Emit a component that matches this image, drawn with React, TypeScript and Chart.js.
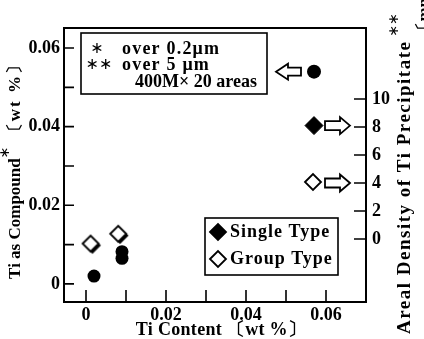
import { useEffect, useRef } from 'react';
import { Chart, registerables } from 'chart.js';

Chart.register(...registerables);

// ---- data ----
const compoundX = [0.002, 0.009, 0.009, 0.057];
const compoundY = [0.002, 0.0082, 0.0065, 0.054];
const singleTypeX = [0.057];
const singleTypeDensity = [8.1];
const groupTypeX = [0.0014, 0.0083, 0.057];
const groupTypeDensity = [-0.4, 0.3, 4.0];

const xTickValues = [0, 0.01, 0.02, 0.03, 0.04, 0.05, 0.06];
const xTickLabels = ['0', '', '0.02', '', '0.04', '', '0.06'];
const yTickValues = [0, 0.01, 0.02, 0.03, 0.04, 0.05, 0.06];
const yTickLabels = ['0', '', '0.02', '', '0.04', '', '0.06'];
const y2TickValues = [0, 2, 4, 6, 8, 10];
const y2TickLabels = ['0', '2', '4', '6', '8', '10'];

const noteMarks = ['∗', '∗∗', ''];
const noteTexts = ['over 0.2μm', 'over 5 μm', '400M× 20 areas'];
const legendLabels = ['Single Type', 'Group Type'];
const xTitle = 'Ti Content 〔wt %〕';
const yTitleParts = ['Ti as Compound', '∗', ' 〔wt %〕'];
const y2TitleParts = ['Areal Density of Ti Precipitate', '∗∗', '〔mm⁻²〕'];

const SERIF = '"Liberation Serif", "Times New Roman", serif';

function diamondImage(r: number, shadow: boolean, filled: boolean) {
  const c = document.createElement('canvas');
  const s = Math.ceil(r * 2 + 6);
  c.width = s;
  c.height = s;
  const g = c.getContext('2d')!;
  const cx = s / 2 - 1;
  const cy = s / 2 - 1;
  const path = (x: number, y: number, rr: number) => {
    g.beginPath();
    g.moveTo(x - rr, y);
    g.lineTo(x, y - rr);
    g.lineTo(x + rr, y);
    g.lineTo(x, y + rr);
    g.closePath();
  };
  if (shadow) {
    path(cx + 1.8, cy + 1.8, r + 0.5);
    g.fillStyle = '#000';
    g.fill();
  }
  path(cx, cy, r);
  g.fillStyle = filled ? '#000' : '#fff';
  g.fill();
  g.lineWidth = 1.8;
  g.strokeStyle = '#000';
  g.stroke();
  return c;
}

function drawArrow(ctx: CanvasRenderingContext2D, tailX: number, y: number, dir: number, len: number, headLen: number, headH: number, shaftH: number) {
  const tipX = tailX + dir * len;
  const hb = tipX - dir * headLen;
  ctx.beginPath();
  ctx.moveTo(tipX, y);
  ctx.lineTo(hb, y - headH / 2);
  ctx.lineTo(hb, y - shaftH / 2);
  ctx.lineTo(tailX, y - shaftH / 2);
  ctx.lineTo(tailX, y + shaftH / 2);
  ctx.lineTo(hb, y + shaftH / 2);
  ctx.lineTo(hb, y + headH / 2);
  ctx.closePath();
  ctx.fillStyle = '#fff';
  ctx.fill();
  ctx.lineWidth = 1.8;
  ctx.strokeStyle = '#000';
  ctx.stroke();
}

export default function App() {
  const ref = useRef<HTMLCanvasElement>(null);

  useEffect(() => {
    const canvas = ref.current!;
    const openShadow = diamondImage(8, true, false);
    const openPlain = diamondImage(8, false, false);
    const filledImg = diamondImage(8, false, true);

    const decor = {
      id: 'decor',
      afterDatasetsDraw(chart: any) {
        const { ctx, chartArea: a, scales } = chart;
        ctx.save();
        // frame
        ctx.strokeStyle = '#000';
        ctx.lineWidth = 2;
        ctx.strokeRect(a.left, a.top, a.right - a.left, a.bottom - a.top);
        // inward ticks
        ctx.lineWidth = 1.6;
        ctx.beginPath();
        scales.x.ticks.forEach((t: any) => {
          const px = scales.x.getPixelForValue(t.value);
          ctx.moveTo(px, a.bottom);
          ctx.lineTo(px, a.bottom - 12);
        });
        scales.y.ticks.forEach((t: any) => {
          const py = scales.y.getPixelForValue(t.value);
          ctx.moveTo(a.left - 1, py);
          ctx.lineTo(a.left + 10, py);
        });
        scales.y2.ticks.forEach((t: any) => {
          const py = scales.y2.getPixelForValue(t.value);
          ctx.moveTo(a.right, py);
          ctx.lineTo(a.right - 12, py);
        });
        ctx.stroke();

        // arrows beside the points at the highest Ti content
        const m0 = chart.getDatasetMeta(0).data[3];
        drawArrow(ctx, m0.x - 13, m0.y, -1, 25, 12, 16, 8);
        const m1 = chart.getDatasetMeta(1).data[0];
        drawArrow(ctx, m1.x + 11, m1.y, 1, 25, 10, 17, 9);
        const m2 = chart.getDatasetMeta(2).data[2];
        drawArrow(ctx, m2.x + 11, m2.y, 1, 25, 10, 17, 9);

        // note box
        ctx.lineWidth = 1.6;
        ctx.strokeRect(81, 33, 186, 61);
        ctx.fillStyle = '#000';
        ctx.textBaseline = 'middle';
        const rows = [49, 65, 82];
        const markX = [97, 99, 0];
        const textX = [122, 122, 135];
        const spacing = ['1.2px', '1.2px', '0px'];
        noteMarks.forEach((mk, i) => {
          (ctx as any).letterSpacing = '0px';
          if (mk) {
            ctx.font = `16px "DejaVu Sans", sans-serif`;
            ctx.textAlign = 'center';
            ctx.fillText(mk, markX[i], rows[i]);
          }
          (ctx as any).letterSpacing = spacing[i];
          ctx.font = `bold 18px ${SERIF}`;
          ctx.textAlign = 'left';
          ctx.fillText(noteTexts[i], textX[i], rows[i]);
        });

        // type legend box
        (ctx as any).letterSpacing = '1px';
        ctx.lineWidth = 1.6;
        ctx.strokeRect(205, 218, 133, 57);
        const ly = [232, 259];
        ctx.drawImage(filledImg, 218 - filledImg.width / 2 + 1, ly[0] - filledImg.height / 2 + 1);
        ctx.drawImage(openPlain, 218 - openPlain.width / 2 + 1, ly[1] - openPlain.height / 2 + 1);
        ctx.textAlign = 'left';
        ctx.font = `bold 18px ${SERIF}`;
        legendLabels.forEach((lb, i) => ctx.fillText(lb, 230, ly[i]));

        // x title
        (ctx as any).letterSpacing = '0.3px';
        ctx.font = `bold 18px ${SERIF}`;
        ctx.textAlign = 'center';
        ctx.fillText(xTitle, 221, 330);

        // left title
        ctx.save();
        ctx.translate(16, 167);
        ctx.rotate(-Math.PI / 2);
        ctx.textAlign = 'left';
        const fMain = `bold 17px ${SERIF}`;
        const fStar = `14px "DejaVu Sans", sans-serif`;
        (ctx as any).letterSpacing = '0px';
        ctx.font = fMain;
        const w0 = ctx.measureText(yTitleParts[0]).width;
        ctx.font = fStar;
        const w1 = ctx.measureText(yTitleParts[1]).width;
        (ctx as any).letterSpacing = '2px';
        ctx.font = fMain;
        const w2 = ctx.measureText(yTitleParts[2]).width;
        let sx = -(w0 + w1 + w2) / 2;
        (ctx as any).letterSpacing = '0px';
        ctx.fillText(yTitleParts[0], sx, 0);
        sx += w0;
        ctx.font = fStar;
        ctx.fillText(yTitleParts[1], sx, -11);
        sx += w1;
        (ctx as any).letterSpacing = '2px';
        ctx.font = fMain;
        ctx.fillText(yTitleParts[2], sx, 0);
        ctx.restore();

        // right title
        ctx.save();
        ctx.translate(405, 334);
        ctx.rotate(-Math.PI / 2);
        ctx.textAlign = 'left';
        (ctx as any).letterSpacing = '1.5px';
        ctx.font = `bold 19px ${SERIF}`;
        ctx.fillText(y2TitleParts[0], 0, 0);
        const r0 = ctx.measureText(y2TitleParts[0]).width;
        (ctx as any).letterSpacing = '0px';
        ctx.font = fStar;
        ctx.fillText(y2TitleParts[1], r0 + 4, -11);
        ctx.font = `bold 17px ${SERIF}`;
        ctx.fillText(y2TitleParts[2], r0 + 2, 20);
        ctx.restore();

        ctx.restore();
      },
    };

    const tickFont = { family: SERIF, size: 18, weight: 'bold' as const };

    const chart = new Chart(canvas, {
      type: 'scatter',
      data: {
        datasets: [
          {
            label: 'Ti as Compound',
            data: compoundX.map((x, i) => ({ x, y: compoundY[i] })),
            yAxisID: 'y',
            pointStyle: 'circle',
            pointRadius: (c: any) => (c.dataIndex === 3 ? 7 : 6.5),
            backgroundColor: '#000',
            borderColor: '#000',
            borderWidth: 0,
          },
          {
            label: legendLabels[0],
            data: singleTypeX.map((x, i) => ({ x, y: singleTypeDensity[i] })),
            yAxisID: 'y2',
            pointStyle: 'rectRot',
            pointRadius: 9,
            backgroundColor: '#000',
            borderColor: '#000',
            borderWidth: 1,
          },
          {
            label: legendLabels[1],
            data: groupTypeX.map((x, i) => ({ x, y: groupTypeDensity[i] })),
            yAxisID: 'y2',
            pointStyle: (c: any) => (c.dataIndex < 2 ? openShadow : openPlain),
            pointRadius: 9,
            backgroundColor: '#fff',
            borderColor: '#000',
          },
        ],
      },
      options: {
        animation: false,
        responsive: false,
        maintainAspectRatio: false,
        layout: { padding: { top: 28, left: 0, right: 0, bottom: 0 } },
        plugins: { legend: { display: false }, tooltip: { enabled: false } },
        scales: {
          x: {
            type: 'linear',
            min: -0.0055,
            max: 0.07,
            border: { display: false },
            grid: { display: false, drawTicks: false },
            afterBuildTicks: (s: any) => {
              s.ticks = xTickValues.map((v) => ({ value: v }));
            },
            ticks: {
              callback: (_v: any, i: number) => xTickLabels[i],
              font: tickFont,
              color: '#000',
              padding: 3,
              maxRotation: 0,
              autoSkip: false,
            },
            afterFit: (s: any) => {
              s.height = 37;
            },
          },
          y: {
            type: 'linear',
            position: 'left',
            min: -0.0046,
            max: 0.0651,
            border: { display: false },
            grid: { display: false, drawTicks: false },
            afterBuildTicks: (s: any) => {
              s.ticks = yTickValues.map((v) => ({ value: v }));
            },
            ticks: {
              callback: (_v: any, i: number) => yTickLabels[i],
              font: tickFont,
              color: '#000',
              padding: 4,
              autoSkip: false,
            },
            afterFit: (s: any) => {
              s.width = 64;
            },
          },
          y2: {
            type: 'linear',
            position: 'right',
            min: -4.5,
            max: 15.07,
            border: { display: false },
            grid: { display: false, drawTicks: false },
            afterBuildTicks: (s: any) => {
              s.ticks = y2TickValues.map((v) => ({ value: v }));
            },
            ticks: {
              callback: (_v: any, i: number) => y2TickLabels[i],
              font: tickFont,
              color: '#000',
              padding: 6,
              autoSkip: false,
            },
            afterFit: (s: any) => {
              s.width = 58;
            },
          },
        },
      },
      plugins: [decor],
    } as any);

    return () => chart.destroy();
  }, []);

  return (
    <div style={{ position: 'fixed', left: 0, top: 0, width: 424, height: 339, background: '#fff' }}>
      <canvas ref={ref} width={424} height={339} style={{ width: 424, height: 339 }} />
    </div>
  );
}
